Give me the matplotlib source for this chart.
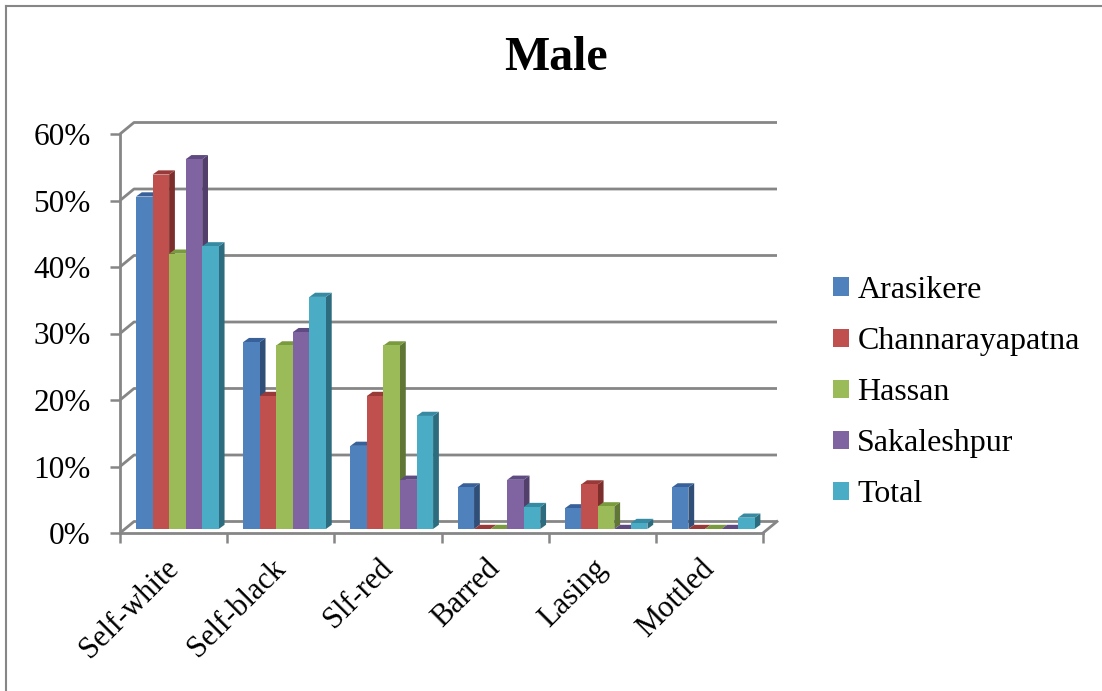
import matplotlib
matplotlib.use("Agg")
import matplotlib.pyplot as plt
from matplotlib.lines import Line2D
from matplotlib.patches import Patch, Polygon

plt.rcParams["font.family"] = ["Liberation Serif", "DejaVu Serif"]

categories = ["Self-white", "Self-black", "Slf-red", "Barred", "Lasing", "Mottled"]
arasikere = [0.50, 0.281, 0.125, 0.0625, 0.031, 0.0625]
channarayapatna = [0.533, 0.20, 0.20, 0.0, 0.067, 0.0]
hassan = [0.414, 0.276, 0.276, 0.0, 0.034, 0.0]
sakaleshpur = [0.556, 0.296, 0.074, 0.074, 0.0, 0.0]
total = [0.425, 0.349, 0.17, 0.033, 0.009, 0.017]

series_names = ["Arasikere", "Channarayapatna", "Hassan", "Sakaleshpur", "Total"]
series_values = [arasikere, channarayapatna, hassan, sakaleshpur, total]
y_ticks = [0.0, 0.1, 0.2, 0.3, 0.4, 0.5, 0.6]
y_labels = ["0%", "10%", "20%", "30%", "40%", "50%", "60%"]

# front, top and side shades of each series
front_colors = ["#4F81BD", "#C0504D", "#9BBB59", "#8064A2", "#4BACC6"]
top_colors = ["#38619A", "#9A3A38", "#7A9A3E", "#5F4A82", "#368BA3"]
side_colors = ["#2F4F78", "#7C2E2C", "#5F7634", "#523F6B", "#2C6C7E"]
GRID = "#868686"

W, H = 1102, 691
LEFT, RIGHT, BOTTOM, TOP = 120, 763, 533, 134

fig = plt.figure(figsize=(W / 100, H / 100), dpi=100)
ax = fig.add_axes([LEFT / W, 1 - BOTTOM / H, (RIGHT - LEFT) / W, (BOTTOM - TOP) / H])
ax.set_xlim(0, len(categories))
ax.set_ylim(0, 0.6)

# pixel sizes turned into data units
px_x = len(categories) / (RIGHT - LEFT)
px_y = 0.6 / (BOTTOM - TOP)
wall_dx, wall_dy = 14 * px_x, 11.5 * px_y
bar_dx, bar_dy = 5.8 * px_x, 4.2 * px_y
bar_w = 16.55 * px_x
group_start = 16 * px_x
bar_lift = 4 * px_y
label_shift = 10 * px_x

# back wall gridlines with the diagonal running to the front axis
for t in y_ticks:
    ax.plot([0, wall_dx, len(categories) + wall_dx], [t, t + wall_dy, t + wall_dy],
            color=GRID, lw=2, zorder=1, clip_on=False, solid_capstyle="butt")
ax.plot([len(categories), len(categories) + wall_dx], [0, wall_dy],
        color=GRID, lw=2, zorder=1, clip_on=False)

# bars go left to right so each one hides the side of the one before it
z = 2
for c in range(len(categories)):
    for s, values in enumerate(series_values):
        v = values[c]
        x0 = c + group_start + s * bar_w
        x1 = x0 + bar_w
        y1 = bar_lift + v
        side = [(x1, bar_lift), (x1 + bar_dx, bar_lift + bar_dy),
                (x1 + bar_dx, y1 + bar_dy), (x1, y1)]
        top = [(x0, y1), (x0 + bar_dx, y1 + bar_dy), (x1 + bar_dx, y1 + bar_dy), (x1, y1)]
        ax.add_patch(Polygon(side, closed=True, fc=side_colors[s], ec="none", zorder=z))
        ax.add_patch(Polygon(top, closed=True, fc=top_colors[s], ec="none", zorder=z))
        ax.bar(x0, v, width=bar_w, bottom=bar_lift, align="edge",
               color=front_colors[s], zorder=z + 0.5)
        z += 1

for name in ["top", "right"]:
    ax.spines[name].set_visible(False)
for name in ["left", "bottom"]:
    ax.spines[name].set_color(GRID)
    ax.spines[name].set_linewidth(2)
    ax.spines[name].set_zorder(1.5)

ax.set_yticks(y_ticks)
ax.set_yticklabels(y_labels, fontsize=22.5)
ax.tick_params(axis="y", length=7.2, width=1.8, color=GRID, pad=14)

# ticks sit between the groups, labels just left of the group centres
ax.set_xticks(range(len(categories) + 1))
ax.set_xticklabels([])
ax.tick_params(axis="x", which="major", length=7.2, width=1.8, color=GRID)
ax.set_xticks([c + 0.5 - label_shift for c in range(len(categories))], minor=True)
ax.set_xticklabels(categories, minor=True, fontsize=22, rotation=45, ha="right",
                   rotation_mode="anchor")
ax.tick_params(axis="x", which="minor", length=0, pad=15)

fig.text(556 / W, 1 - 58 / H, "Male", fontsize=34.5, fontweight="bold", ha="center", va="center")

handles = [Patch(fc=c, ec="none", label=n) for c, n in zip(front_colors, series_names)]
fig.legend(handles=handles, loc="center left", bbox_to_anchor=(827 / W, 1 - 392.5 / H), frameon=False,
           fontsize=23, handlelength=0.5, handleheight=0.5, handletextpad=0.25,
           labelspacing=0.69, borderaxespad=0, borderpad=0.2)

# chart area border, only the top and left edges are in view
fig.add_artist(Line2D([6 / W, 6 / W], [0, 1 - 6 / H], color=GRID, lw=1.5))
fig.add_artist(Line2D([6 / W, 1], [1 - 6 / H, 1 - 6 / H], color=GRID, lw=1.5))

fig.savefig("out.png", dpi=100)
